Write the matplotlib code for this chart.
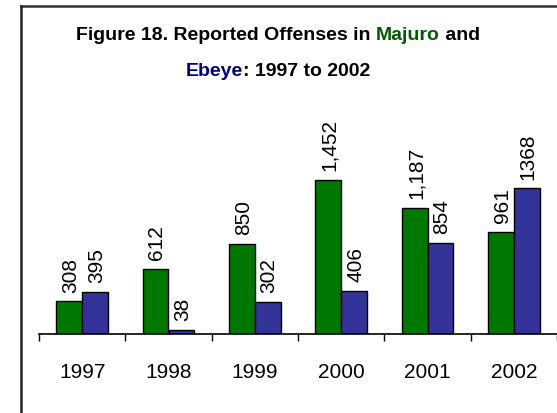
import matplotlib
matplotlib.use('Agg')
import matplotlib.pyplot as plt
from matplotlib.lines import Line2D
import numpy as np

years = ['1997', '1998', '1999', '2000', '2001', '2002']
majuro = [308, 612, 850, 1452, 1187, 961]
ebeye = [395, 38, 302, 406, 854, 1368]
majuro_lbl = ['308', '612', '850', '1,452', '1,187', '961']
ebeye_lbl = ['395', '38', '302', '406', '854', '1368']

green = '#007800'
blue = '#333399'
fam = ['Liberation Sans Narrow', 'Liberation Sans', 'DejaVu Sans']
plt.rcParams['font.family'] = fam

W, H = 557, 414
fig = plt.figure(figsize=(W / 100, H / 100), dpi=100)
ax = fig.add_axes([39 / W, 79 / H, 518 / W, 234 / H])

x = np.arange(len(years))
w = 0.3
b1 = ax.bar(x - w / 2, majuro, w, color=green, edgecolor='black', linewidth=1)
b2 = ax.bar(x + w / 2, ebeye, w, color=blue, edgecolor='black', linewidth=1)

for bars, labels in [(b1, majuro_lbl), (b2, ebeye_lbl)]:
    for r, s in zip(bars, labels):
        ax.annotate(s, (r.get_x() + r.get_width() / 2, r.get_height()),
                    xytext=(1, 7), textcoords='offset points',
                    rotation=90, ha='center', va='bottom', fontsize=15)

ax.set_xlim(-0.5, len(years) - 0.5)
ax.set_ylim(0, 2200)
ax.set_yticks([])
for s in ['top', 'right', 'left']:
    ax.spines[s].set_visible(False)
ax.spines['bottom'].set_linewidth(1.2)
ax.set_xticks(x)
ax.set_xticklabels(years, fontsize=15)
ax.set_xticks(np.arange(-0.5, len(years)), minor=True)
ax.tick_params(axis='x', which='major', length=0, pad=20)
ax.tick_params(axis='x', which='minor', length=5, width=1, direction='out')

# frame around the chart area (only top and left visible)
fig.add_artist(Line2D([21 / W, 1], [1 - 6.5 / H, 1 - 6.5 / H], color='#333333', lw=1.8, transform=fig.transFigure))
fig.add_artist(Line2D([21 / W, 21 / W], [0, 1 - 6.5 / H], color='#222222', lw=1.8, transform=fig.transFigure))

# two-line title with coloured place names
lines = [
    [('Figure 18. Reported Offenses in ', 'black'), ('Majuro', '#005a00'), (' and', 'black')],
    [('Ebeye', '#000080'), (': 1997 to 2002', 'black')],
]
centers_y = [H - 35, H - 72]
fig.canvas.draw()
rend = fig.canvas.get_renderer()
for parts, cy in zip(lines, centers_y):
    texts = []
    for s, c in parts:
        t = fig.text(0, cy / H, s, color=c, fontsize=14, fontweight='bold', va='center', ha='left')
        texts.append(t)
    widths = [t.get_window_extent(rend).width for t in texts]
    xpos = 278 - sum(widths) / 2
    for t, wd in zip(texts, widths):
        t.set_x(xpos / W)
        xpos += wd

fig.savefig('out.png', dpi=100)
